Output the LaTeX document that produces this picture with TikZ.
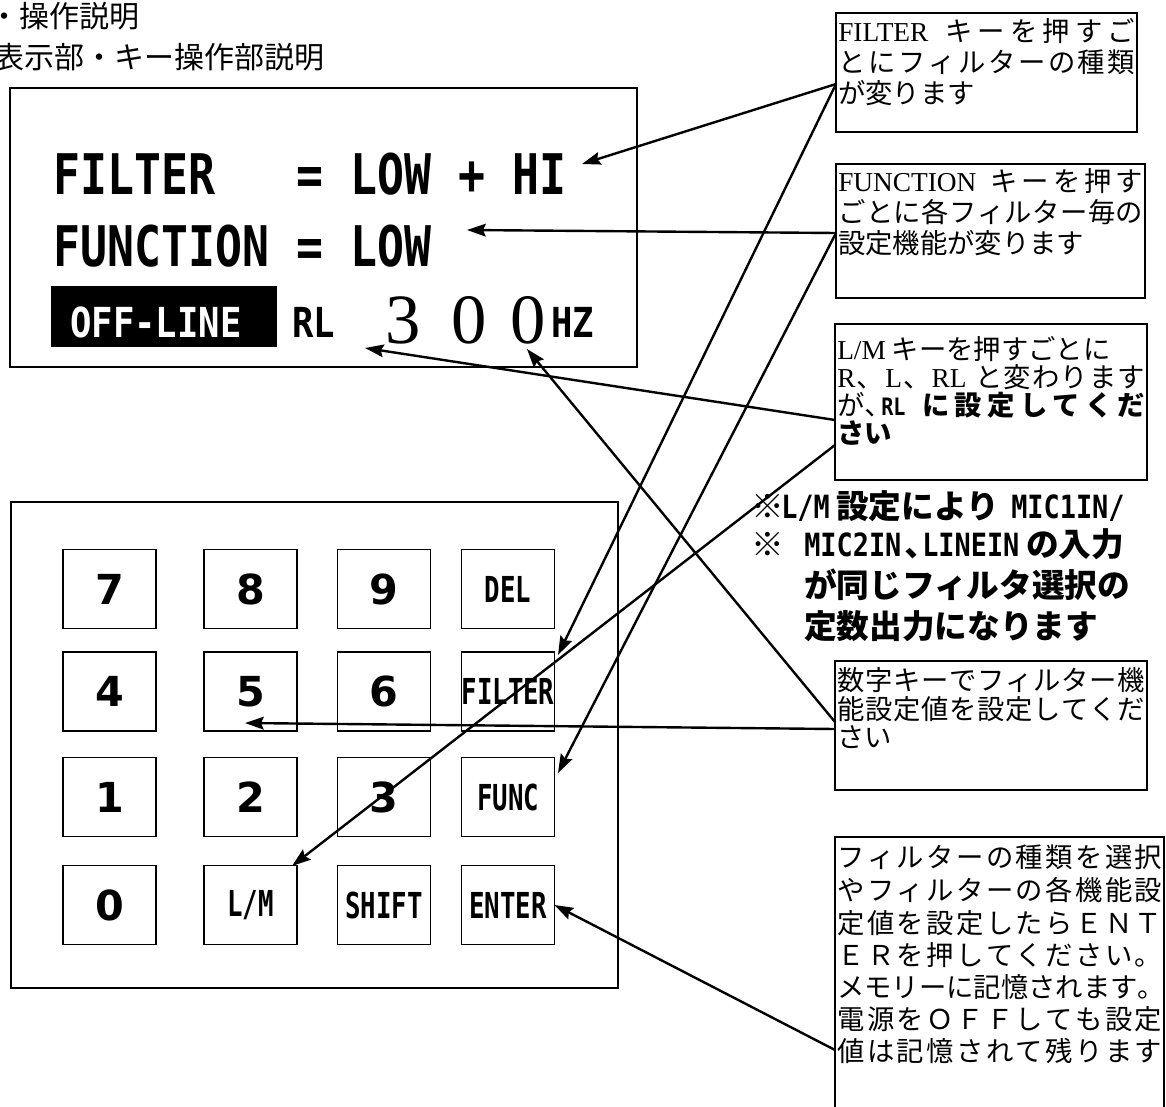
\documentclass[tikz,border=0pt]{standalone}
\usepackage{fontspec}
\usetikzlibrary{arrows.meta}
\setmainfont{Liberation Serif}
\newfontfamily\cjk{Noto Sans CJK JP}
\newfontfamily\lat{Liberation Serif}
\newfontfamily\lcdA[FakeStretch=0.80]{DejaVu Sans Mono}
\newfontfamily\lcdB[FakeStretch=0.86]{DejaVu Sans Mono}
\newfontfamily\lcdK[FakeStretch=0.72]{DejaVu Sans Mono}
\newfontfamily\lcdN[FakeStretch=0.84]{DejaVu Sans Mono}
\newfontfamily\keyfont{DejaVu Sans}
\newdimen\PX \PX=0.75pt
\newcommand\fs[1]{\fontsize{#1}{#1}\selectfont}
\def\jlstart#1{{#1}\jlrest}
\def\jlrest#1{\ifx\relax#1\else\hfil{#1}\expandafter\jlrest\fi}
\newcommand\jline[2]{\makebox[#1\PX][s]{\jlstart#2\relax}}
\tikzset{
  wh/.style 2 args={minimum width={#1*0.75pt},minimum height={#2*0.75pt}},
  frame/.style={draw,line width=1.1pt,inner sep=0,outer sep=0},
  note/.style={draw,line width=1.3pt,inner sep=0,outer sep=0},
  key/.style={draw,line width=1.4pt,inner sep=0,outer sep=0,wh={93}{79}},
  digit/.style={font={\keyfont\bfseries\fs{31}}},
  klab/.style={font={\lcdK\bfseries\fs{26.8}}},
  lcdbig/.style={inner sep=0,anchor=base west,font={\lcdA\bfseries\fs{42}}},
  lcdmid/.style={inner sep=0,anchor=base west,font={\lcdB\bfseries\fs{31}}},
  cjkbox/.style={text height=0.84em,text depth=0.12em},
  txt/.style={inner sep=0,anchor=west,font={\cjk\fs{20.5}},cjkbox,yshift=-3pt},
  btxt/.style={inner sep=0,anchor=west,font={\cjk\bfseries\fs{20.5}},cjkbox,yshift=-3pt},
  ntxt/.style={inner sep=0,anchor=west,font={\cjk\bfseries\fs{24.5}},cjkbox,yshift=-5pt},
  nlcd/.style={inner sep=0,anchor=west,font={\lcdN\bfseries\fs{24}},cjkbox,yshift=-5pt},
  conn/.style={line width=1.8pt,-{Stealth[length=14pt,width=9.5pt,inset=2pt]}}
}
\begin{document}
\begin{tikzpicture}[x=0.75pt,y=-0.75pt]
\useasboundingbox (0,0) rectangle (1166,1106);
\fill[white] (0,0) rectangle (1166,1106);

% title
\node[inner sep=0,anchor=east,font={\cjk\fs{22.5}}] (t1) at (140,16) {・操作説明};
\node[inner sep=0,anchor=east,font={\cjk\fs{22.5}}] (t2) at (325,57) {表示部・キー操作部説明};

% display
\node[frame,wh={627}{279}] (disp) at (323.5,227.5) {};
\node[lcdbig] (dFILTER) at (53,194) {FILTER};
\node[lcdbig] (dEq1) at (296,194) {=};
\node[lcdbig] (dLOW1) at (350,194) {LOW};
\node[lcdbig] (dPlus) at (458,194) {+};
\node[lcdbig] (dHI) at (512,194) {HI};
\node[lcdbig] (dFUNC) at (53,266) {FUNCTION};
\node[lcdbig] (dEq2) at (296,266) {=};
\node[lcdbig] (dLOW2) at (350,266) {LOW};
\node[fill=black,inner sep=0,wh={226}{61}] (offbox) at (164,316.5) {};
\node[lcdmid,text=white] (dOFF) at (70,337) {OFF-LINE};
\node[lcdmid] (dRL) at (292,337) {RL};
\node[inner sep=0,anchor=base,font={\lat\fs{53}}] (d3) at (403,343) {3};
\node[inner sep=0,anchor=base,font={\lat\fs{53}}] (d0a) at (469,343) {0};
\node[inner sep=0,anchor=base,font={\lat\fs{53}}] (d0b) at (528,343) {0};
\node[lcdmid] (dHZ) at (551,337) {HZ};

% keypad
\node[frame,wh={607}{486}] (pad) at (314.5,745) {};
\node[key,digit] (k7) at (109.5,589) {7};
\node[key,digit] (k8) at (250.5,589) {8};
\node[key,digit] (k9) at (384,589) {9};
\node[key,klab] (kDEL) at (508,589) {DEL};
\node[key,digit] (k4) at (109.5,691.5) {4};
\node[key,digit] (k5) at (250.5,691.5) {5};
\node[key,digit] (k6) at (384,691.5) {6};
\node[key,klab] (kFILTER) at (508,691.5) {FILTER};
\node[key,digit] (k1) at (109.5,797) {1};
\node[key,digit] (k2) at (250.5,797) {2};
\node[key,digit] (k3) at (384,797) {3};
\node[key,klab] (kFUNC) at (508,797) {FUNC};
\node[key,digit] (k0) at (109.5,905) {0};
\node[key,klab] (kLM) at (250.5,905) {L/M};
\node[key,klab] (kSHIFT) at (384,905) {SHIFT};
\node[key,klab] (kENTER) at (508,905) {ENTER};

% annotation boxes
\node[note,wh={301}{119}] (b1) at (986.5,72.5) {};
\node[txt] (b1l1) at (838,33) {\jline{297}{{\lat FILTER}{\ }キーを押すご}};
\node[txt] (b1l2) at (838,64) {\jline{297}{とにフィルターの種類}};
\node[txt] (b1l3) at (838,95) {が変ります};

\node[note,wh={309}{134}] (b2) at (990.5,231) {};
\node[txt] (b2l1) at (838,183) {\jline{305}{{\lat FUNCTION}{\ }キーを押す}};
\node[txt] (b2l2) at (838,214) {\jline{305}{ごとに各フィルター毎の}};
\node[txt] (b2l3) at (838,245) {設定機能が変ります};

\node[note,wh={312}{156}] (b3) at (991,402) {};
\node[txt] (b3l1) at (837,351) {{\lat L/M} キーを押すごとに};
\node[txt] (b3l2) at (837,379) {\jline{308}{{\lat R}、{\lat L}、{\lat RL}{\ }と変わります}};
\node[txt] (b3l3a) at (837,407) {が};
\node[txt] (b3l3c) at (865,407) {､};
\node[btxt] (b3l3b) at (881,407) {\jline{264}{{\lcdN\fs{18}RL}{\ }に設定してくだ}};
\node[btxt] (b3l4) at (837,435) {さい};

% bold note
\node[ntxt] (n1a) at (751,507) {※};
\node[nlcd] (n1b) at (781,507) {L/M};
\node[ntxt] (n1c) at (836,507) {設定により};
\node[nlcd] (n1d) at (1011,507) {MIC1IN/};
\node[ntxt] (n2a) at (751,545) {※};
\node[nlcd] (n2b) at (804,545) {MIC2IN};
\node[ntxt] (n2c) at (905,545) {､};
\node[nlcd] (n2d) at (922,545) {LINEIN};
\node[ntxt] (n2e) at (1026,545) {の入力};
\node[ntxt] (n3) at (804,586) {が同じフィルタ選択の};
\node[ntxt] (n4) at (804,627) {定数出力になります};

\node[note,wh={312}{129}] (b4) at (991,725.5) {};
\node[txt] (b4l1) at (837,682) {\jline{308}{数字キーでフィルター機}};
\node[txt] (b4l2) at (837,711) {\jline{308}{能設定値を設定してくだ}};
\node[txt] (b4l3) at (837,739) {さい};

\node[note,wh={329}{288}] (b5) at (999.5,981) {};
\node[txt] (b5l1) at (837,859) {\jline{325}{フィルターの種類を選択}};
\node[txt] (b5l2) at (837,892) {\jline{325}{やフィルターの各機能設}};
\node[txt] (b5l3) at (837,925) {\jline{325}{定値を設定したらＥＮＴ}};
\node[txt] (b5l4) at (837,957) {\jline{325}{ＥＲを押してください。}};
\node[txt] (b5l5) at (837,989) {\jline{325}{メモリーに記憶されます。}};
\node[txt] (b5l6) at (837,1021) {\jline{325}{電源をＯＦＦしても設定}};
\node[txt] (b5l7) at (837,1053) {\jline{325}{値は記憶されて残ります}};

% connector end points
\coordinate (p1) at (836,84);
\coordinate (p2) at (836,233);
\coordinate (p3a) at (835,420);
\coordinate (p3b) at (835,445);
\coordinate (p4a) at (835,722);
\coordinate (p4b) at (835,729);
\coordinate (p5) at (835,1050);
\coordinate (tHI) at (582,164);
\coordinate (tLOW) at (467,230);
\coordinate (tRL) at (365,348);
\coordinate (tZero) at (527,349);
\coordinate (tFILTER) at (558,655);
\coordinate (tFUNC) at (558,773);
\coordinate (tLM) at (292,866);
\coordinate (tFive) at (245,723);

\draw[conn] (p1) -- (tHI);
\draw[conn] (p1) -- (tFILTER);
\draw[conn] (p2) -- (tLOW);
\draw[conn] (p2) -- (tFUNC);
\draw[conn] (p3a) -- (tRL);
\draw[conn] (p3b) -- (tLM);
\draw[conn] (p4a) -- (tZero);
\draw[conn] (p4b) -- (tFive);
\draw[conn] (p5) -- (kENTER.east);
\end{tikzpicture}
\end{document}
